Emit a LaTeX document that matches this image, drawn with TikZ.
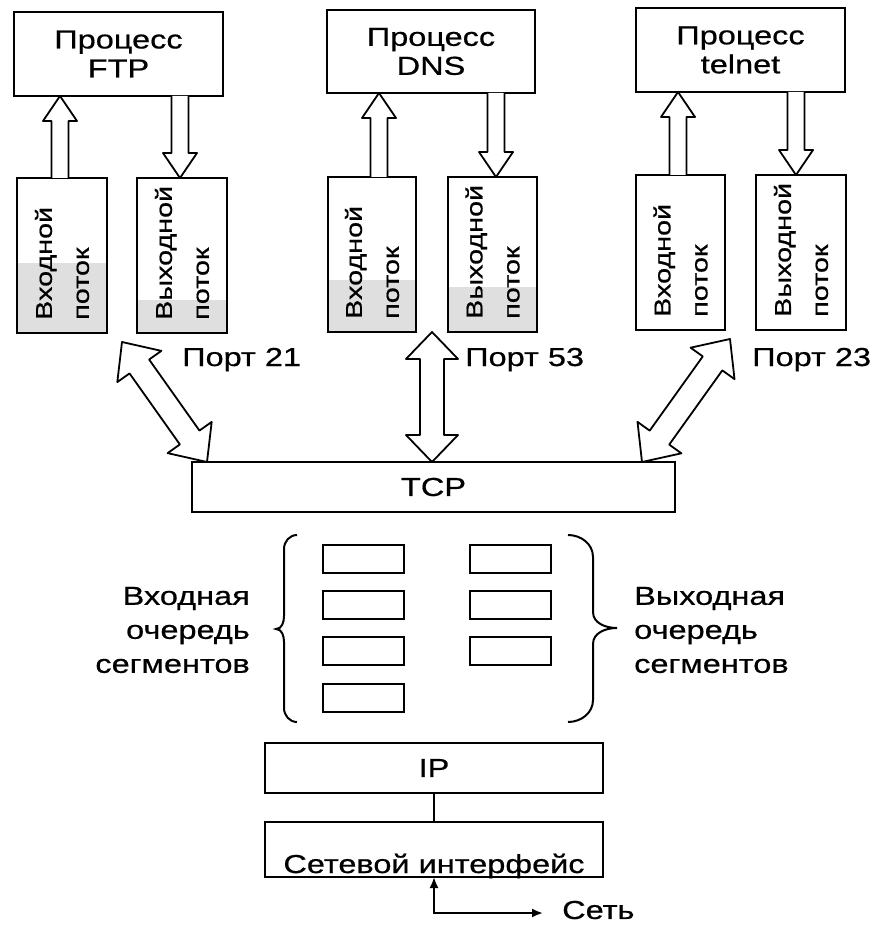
\documentclass[tikz,border=0pt]{standalone}
\usepackage{fontspec}
\setmainfont{Liberation Sans}[FakeStretch=1.25, FakeBold=0.6]
\usetikzlibrary{calc,arrows.meta}

\tikzset{
  box/.style={draw, line width=2.2pt, inner sep=0pt, outer sep=0pt},
  proc/.style={box, minimum width=209pt, minimum height=84pt, align=center,
    font=\fontsize{26}{29}\selectfont},
  stream/.style={box, minimum width=90pt, minimum height=155pt},
  streamtext/.style={rotate=90, anchor=west, align=left, inner sep=0pt,
    font=\fontsize{23}{37}\selectfont},
  seg/.style={box, line width=2pt, minimum width=81pt, minimum height=28pt},
  lbl/.style={inner sep=0pt, font=\fontsize{26}{34}\selectfont},
  arrowline/.style={draw, fill=white, line width=1.8pt, line join=round},
  bufferfill/.style={fill=gray!25},
  bracket/.style={line width=2pt},
  thinlink/.style={line width=2pt},
}

% hollow block arrow: #1 tail, #2 tip, #3 half shaft width, #4 half head width, #5 head length
\newcommand{\openarrow}[5]{%
  \coordinate (oa-c) at ($(#2)!#5!(#1)$);
  \draw[arrowline] ($(#1)!#3!-90:(#2)$) -- ($(oa-c)!#3!90:(#1)$) -- ($(oa-c)!#4!90:(#1)$)
    -- (#2) -- ($(oa-c)!#4!-90:(#1)$) -- ($(oa-c)!#3!-90:(#1)$) -- ($(#1)!#3!90:(#2)$);
}
% hollow double-headed block arrow between #1 and #2
\newcommand{\openbiarrow}[5]{%
  \coordinate (ob-a) at ($(#1)!#5!(#2)$);
  \coordinate (ob-b) at ($(#2)!#5!(#1)$);
  \draw[arrowline] (#1) -- ($(ob-a)!#4!90:(#2)$) -- ($(ob-a)!#3!90:(#2)$)
    -- ($(ob-b)!#3!-90:(#1)$) -- ($(ob-b)!#4!-90:(#1)$) -- (#2)
    -- ($(ob-b)!#4!90:(#1)$) -- ($(ob-b)!#3!90:(#1)$)
    -- ($(ob-a)!#3!-90:(#2)$) -- ($(ob-a)!#4!-90:(#2)$) -- cycle;
}

\begin{document}
\begin{tikzpicture}[x=1pt, y=-1pt]
\fill[white] (0,0) rectangle (873,925);
\useasboundingbox (0,0) rectangle (873,925);

% buffer fill levels
\fill[bufferfill] (17,263) rectangle (107,333);
\fill[bufferfill] (137,300) rectangle (227,333);
\fill[bufferfill] (328,280) rectangle (416,332);
\fill[bufferfill] (448,287) rectangle (537,332);

% application processes
\node[proc] (ftp) at (118.5,54) {Процесс\\FTP};
\node[proc, minimum width=208pt, minimum height=83pt] (dns) at (431,51.5) {Процесс\\DNS};
\node[proc] (tel) at (740.5,50) {Процесс\\telnet};

% stream buffers
\node[stream] (ftpin) at (62,255.5) {};
\node[stream] (ftpout) at (182,255.5) {};
\node[stream, minimum width=88pt] (dnsin) at (372,254.5) {};
\node[stream, minimum width=89pt] (dnsout) at (492.5,254.5) {};
\node[stream, minimum width=89pt] (telin) at (680.5,252.5) {};
\node[stream] (telout) at (801,252.5) {};

\node[streamtext] (ftpin-t) at ($(ftpin.south)+(0,-13)$) {Входной\\поток};
\node[streamtext] (ftpout-t) at ($(ftpout.south)+(0,-13)$) {Выходной\\поток};
\node[streamtext] (dnsin-t) at ($(dnsin.south)+(0,-13)$) {Входной\\поток};
\node[streamtext] (dnsout-t) at ($(dnsout.south)+(0,-13)$) {Выходной\\поток};
\node[streamtext] (telin-t) at ($(telin.south)+(0,-13)$) {Входной\\поток};
\node[streamtext] (telout-t) at ($(telout.south)+(0,-13)$) {Выходной\\поток};

% arrows between buffers and processes
\coordinate (f1) at ($(ftpin.north)+(-2,0)$);
\coordinate (f1t) at (f1 |- ftp.south);
\openarrow{f1}{f1t}{8.5pt}{17pt}{25pt}
\coordinate (f2) at ($(ftpout.north)+(-2,0)$);
\coordinate (f2s) at (f2 |- ftp.south);
\openarrow{f2s}{f2}{8.5pt}{17pt}{25pt}

\coordinate (d1) at ($(dnsin.north)+(7,0)$);
\coordinate (d1t) at (d1 |- dns.south);
\openarrow{d1}{d1t}{8.5pt}{17pt}{25pt}
\coordinate (d2) at ($(dnsout.north)+(3.5,0)$);
\coordinate (d2s) at (d2 |- dns.south);
\openarrow{d2s}{d2}{8.5pt}{17pt}{25pt}

\coordinate (t1) at ($(telin.north)+(-2.5,0)$);
\coordinate (t1t) at (t1 |- tel.south);
\openarrow{t1}{t1t}{8.5pt}{17pt}{25pt}
\coordinate (t2) at ($(telout.north)+(-5,0)$);
\coordinate (t2s) at (t2 |- tel.south);
\openarrow{t2s}{t2}{8.5pt}{17pt}{25pt}

% TCP layer
\node[box, minimum width=483pt, minimum height=50pt, font=\fontsize{26}{30}\selectfont] (tcp) at (433.5,487) {TCP};

% ports
\coordinate (p21top) at ($(ftpin.south east)!0.5!(ftpout.south west)+(0,9)$);
\coordinate (p21bot) at ($(tcp.north west)+(15,0)$);
\openbiarrow{p21top}{p21bot}{12pt}{27pt}{30pt}
\coordinate (p53top) at ($(dnsin.south east)!0.5!(dnsout.south west)$);
\coordinate (p53bot) at (p53top |- tcp.north);
\openbiarrow{p53top}{p53bot}{12pt}{26pt}{27pt}
\coordinate (p23top) at ($(telin.south east)+(5,9)$);
\coordinate (p23bot) at ($(tcp.north east)+(-33,0)$);
\openbiarrow{p23top}{p23bot}{12pt}{27pt}{30pt}

\node[lbl, anchor=base west] (port21) at (182,366) {Порт 21};
\node[lbl, anchor=base west] (port53) at (465,366) {Порт 53};
\node[lbl, anchor=base west] (port23) at (752,366) {Порт 23};

% segment queues
\node[seg] (qin1) at (363.5,559) {};
\node[seg] (qin2) at (363.5,605) {};
\node[seg] (qin3) at (363.5,651) {};
\node[seg] (qin4) at (363.5,698) {};
\node[seg] (qout1) at (510.5,559) {};
\node[seg] (qout2) at (510.5,605) {};
\node[seg] (qout3) at (510.5,651) {};

\draw[bracket] (297,535) to[out=180,in=90] (284,549) -- (284,616)
  to[out=-90,in=0] (276,629) to[out=0,in=90] (284,642) -- (284,708)
  to[out=-90,in=180] (297,722);
\draw[bracket] (568,535) to[out=0,in=90] (593,557) -- (593,612)
  to[out=-90,in=180] (617,628) to[out=180,in=90] (593,644) -- (593,700)
  to[out=-90,in=0] (568,722);

\node[lbl, anchor=east, align=right] (inq) at (250,630) {Входная\\очередь\\сегментов};
\node[lbl, anchor=west, align=left] (outq) at (634,630) {Выходная\\очередь\\сегментов};

% IP and network interface
\node[box, minimum width=338pt, minimum height=50pt, font=\fontsize{26}{30}\selectfont] (ip) at (434,768) {IP};
\node[box, minimum width=338pt, minimum height=55pt] (netif) at (434,849.5) {};
\node[lbl, anchor=base] (netif-t) at (434,873) {Сетевой интерфейс};
\draw[thinlink] (ip.south) -- (netif.north);

\coordinate (net) at (543,913);
\draw[thinlink, {Latex[length=11pt,width=9pt]}-{Latex[length=11pt,width=9pt]}] (netif.south) |- (net);
\node[lbl, anchor=west] (net-t) at (562,910) {Сеть};
\end{tikzpicture}
\end{document}
